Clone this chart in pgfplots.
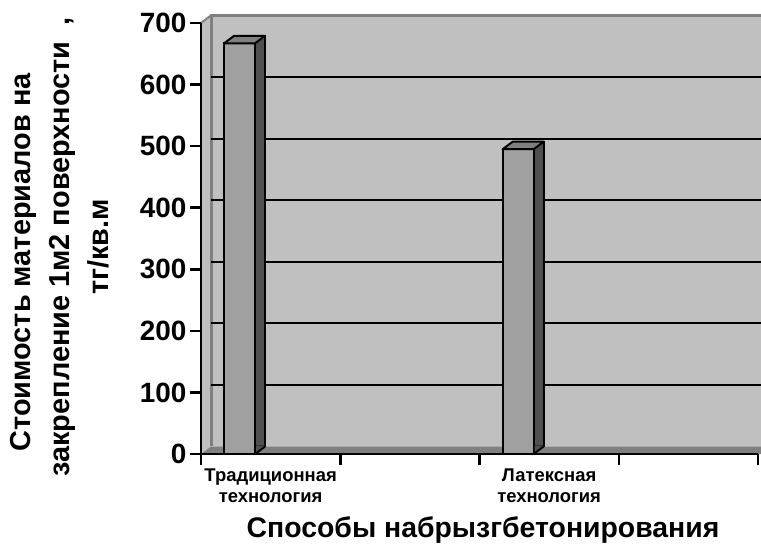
\documentclass[border=0pt]{standalone}
\usepackage{fontspec}
\setmainfont{Liberation Sans}
\usepackage{pgfplots}
\usepackage{pgfplotstable}
\pgfplotsset{compat=1.18}
\definecolor{wall}{HTML}{C0C0C0}
\definecolor{floorc}{HTML}{808080}
\definecolor{frontc}{HTML}{A0A0A0}
\definecolor{sidec}{HTML}{505050}
\definecolor{topc}{HTML}{808080}
\pgfdeclareplotmark{topface}{%
  \pgfpathmoveto{\pgfpoint{-46.5bp}{0bp}}%
  \pgfpathlineto{\pgfpoint{-15.5bp}{0bp}}%
  \pgfpathlineto{\pgfpoint{-5.5bp}{7.5bp}}%
  \pgfpathlineto{\pgfpoint{-36.5bp}{7.5bp}}%
  \pgfpathclose
  \pgfusepathqfillstroke}
\pgfdeclareplotmark{bottomface}{%
  \pgfpathmoveto{\pgfpoint{-14.5bp}{0.75bp}}%
  \pgfpathlineto{\pgfpoint{-5.5bp}{7.5bp}}%
  \pgfpathlineto{\pgfpoint{-6.5bp}{8.7bp}}%
  \pgfpathlineto{\pgfpoint{-14.5bp}{8.7bp}}%
  \pgfpathclose
  \pgfusepathqfill
  \pgfpathmoveto{\pgfpoint{-15.5bp}{0bp}}%
  \pgfpathlineto{\pgfpoint{-5.5bp}{7.5bp}}%
  \pgfusepathqstroke}
\pgfplotstableread{
x y
0.5 667
2.5 495
}\data
\begin{document}
\begin{tikzpicture}
\path[use as bounding box] (-201bp,-92bp) rectangle (560bp,454bp);
% walls
\fill[wall] (0,0) -- (10bp,7.5bp) -- (10bp,438.5bp) -- (0,431bp) -- cycle;
\fill[wall] (10bp,7.5bp) rectangle (580bp,438.5bp);
\fill[floorc] (0,0) -- (570bp,0) -- (580bp,7.5bp) -- (10bp,7.5bp) -- cycle;
\draw[floorc, line width=3bp] (10bp,7.5bp) -- (10bp,438.5bp) -- (580bp,438.5bp);
\draw[floorc, line width=2bp] (0,431bp) -- (10bp,438.5bp);
\begin{axis}[
  at={(0,0)}, anchor=south west, scale only axis,
  width=557bp, height=431bp,
  xmin=0, xmax=4, ymin=0, ymax=700,
  axis x line=bottom, axis y line=left,
  axis line style={-, black, line width=2.5bp},
  xtick={0,1,2,3,4}, xticklabels={},
  ytick={0,100,...,700},
  tick align=outside, major tick length=11bp,
  tick style={black, line width=2.5bp},
  yticklabel style={font=\fontsize{28}{28}\selectfont\bfseries},
  /pgf/number format/assume math mode=true,
  extra x ticks={0.5,2.5},
  extra x tick labels={{Традиционная\\технология},{Латексная\\технология}},
  extra x tick style={tick style={draw=none},
    xticklabel style={align=center, font=\fontsize{18.5}{21.5}\selectfont\bfseries}},
  extra y ticks={100,200,...,600},
  extra y tick labels={},
  extra y tick style={grid=major, tick style={draw=none}},
  major grid style={black, line width=2bp, xshift=10bp, yshift=7.5bp},
  clip=false,
]
\addplot[ybar, bar width=31bp, bar shift=-31bp, fill=sidec, draw=black, line width=2bp, xshift=10bp, yshift=7.5bp] table {\data};
\addplot[ybar, bar width=31bp, bar shift=-31bp, fill=frontc, draw=black, line width=2bp] table {\data};
\addplot[only marks, mark=topface, mark options={fill=topc, draw=black, line width=2bp, line join=round}] table {\data};
\addplot[only marks, mark=bottomface, mark options={fill=sidec, draw=black, line width=2bp}] table[y expr=0] {\data};
\end{axis}
\node[font=\fontsize{28.5}{28.5}\selectfont\bfseries, anchor=base] at (282bp,-83bp) {Способы набрызгбетонирования};
\node[rotate=90, align=center, font=\fontsize{29}{39}\selectfont\bfseries] at (-141bp,207bp) {Стоимость материалов на\hspace*{31bp}\\закрепление 1м2 поверхности\ \ ,\\тг/кв.м};
\end{tikzpicture}
\end{document}
